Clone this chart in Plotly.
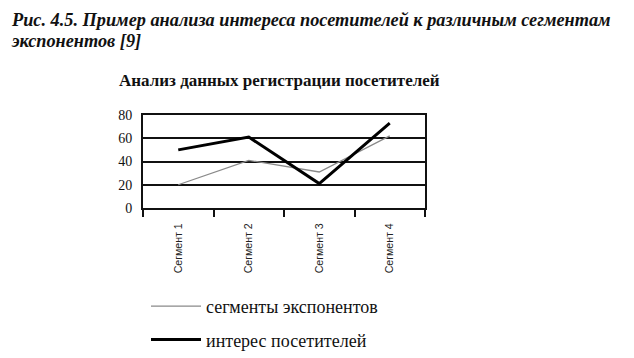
import plotly.graph_objects as go

categories = ["Сегмент 1", "Сегмент 2", "Сегмент 3", "Сегмент 4"]
exhibitor_segments = [20, 41, 31, 62]
visitor_interest = [50, 61, 21, 73]
y_ticks = [0, 20, 40, 60, 80]

# page body has an 8px default margin
OFF = 8
W, H = 634 - OFF, 358 - OFF
L, R, T, B = 143, 425, 115, 208   # plot box in reference page pixels

def px(x):
    return (x - L) / (R - L)

def py(y):
    return (B - y) / (B - T)

def cy(y):
    return (H - (y - OFF)) / H

SERIF = "Liberation Serif, Times New Roman, serif"
SANS = "Liberation Sans, Arial, sans-serif"

fig = go.Figure()
fig.add_trace(go.Scatter(
    x=categories, y=exhibitor_segments, mode="lines",
    name="сегменты экспонентов", legendgroup="a",
    line=dict(color="#8a8a8a", width=1.3)))
fig.add_trace(go.Scatter(
    x=categories, y=visitor_interest, mode="lines",
    name="интерес посетителей", legendgroup="b",
    line=dict(color="#000000", width=3)))

fig.update_layout(
    width=W, height=H,
    margin=dict(l=L - OFF, r=634 - R, t=T - OFF, b=358 - B, pad=0),
    paper_bgcolor="white", plot_bgcolor="white",
    showlegend=True,
    legend=dict(x=px(146), y=cy(288), xref="paper", yref="container",
                xanchor="left", yanchor="top",
                traceorder="grouped", tracegroupgap=7,
                font=dict(family=SERIF, size=18, color="#111"),
                itemwidth=50, bgcolor="rgba(0,0,0,0)"),
    annotations=[
        dict(text="<b><i>Рис. 4.5. Пример анализа интереса посетителей к различным сегментам</i></b>",
             xref="paper", yref="paper", x=px(9), y=py(8), xanchor="left", yanchor="top",
             showarrow=False, font=dict(family=SERIF, size=18.3, color="#111")),
        dict(text="<b><i>экспонентов [9]</i></b>",
             xref="paper", yref="paper", x=px(9), y=py(41), xanchor="left", yanchor="middle",
             showarrow=False, font=dict(family=SERIF, size=18.3, color="#111")),
        dict(text="<b>Анализ данных регистрации посетителей</b>",
             xref="paper", yref="paper", x=px(117), y=py(80), xanchor="left", yanchor="middle",
             showarrow=False, font=dict(family=SERIF, size=17, color="#111")),
    ],
)
fig.update_xaxes(
    type="category", tickson="boundaries", ticks="outside", ticklen=7, tickwidth=2,
    tickcolor="#111", tickangle=-90, ticklabelstandoff=9, automargin=False,
    tickfont=dict(family=SANS, size=10.6, color="#222"),
    showline=True, linecolor="#111", linewidth=2, mirror=True,
    showgrid=False, range=[-0.5, 3.5])
fig.update_yaxes(
    range=[0, 80], tickvals=y_ticks, ticks="", ticklabelstandoff=6, automargin=False,
    tickfont=dict(family=SERIF, size=14, color="#111"),
    showgrid=True, gridcolor="#111", gridwidth=2,
    showline=True, linecolor="#111", linewidth=2, mirror=True,
    zeroline=False)

fig.write_html("out.html")
